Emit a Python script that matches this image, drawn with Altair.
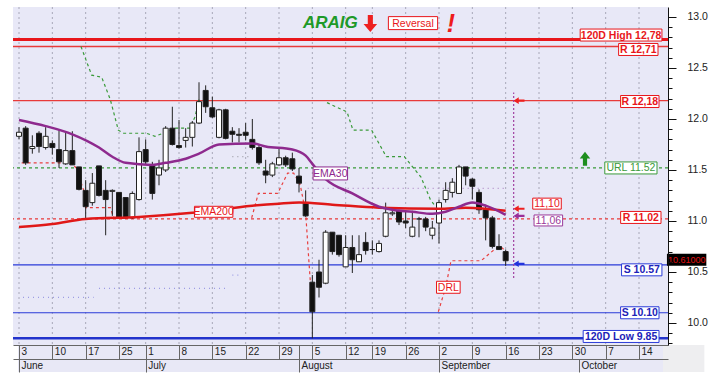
import altair as alt
import pandas as pd

# ---------------- data (trading-day index 0 = 3 June) ----------------
opens = [11.83, 11.91, 11.71, 11.86, 11.72, 11.76, 11.70, 11.56, 11.69, 11.53,
         11.30, 11.18, 11.54, 11.30, 11.29, 11.28, 11.23, 11.03, 11.21, 11.70,
         11.55, 11.45, 11.50, 11.91, 11.74, 11.79, 11.82, 11.96, 12.28, 12.11,
         11.82, 12.09, 11.88, 11.85, 11.87, 11.80, 11.72, 11.49, 11.45, 11.55,
         11.62, 11.61, 11.44, 11.18, 10.40, 10.50, 10.39, 10.89, 10.86, 10.55,
         10.74, 10.60, 10.79, 10.72, 10.70, 10.85, 11.07, 11.10, 11.00, 10.85,
         11.02, 11.02, 10.86, 10.98, 11.21, 11.28, 11.27, 11.53, 11.41, 11.28,
         11.11, 11.03, 10.75, 10.70]
highs = [11.92, 11.93, 11.84, 11.88, 11.92, 11.79, 11.89, 11.88, 11.88, 11.53,
         11.40, 11.47, 11.54, 11.40, 11.31, 11.28, 11.23, 11.29, 11.82, 11.80,
         11.58, 11.60, 11.93, 12.12, 11.99, 11.91, 11.98, 12.36, 12.33, 12.22,
         12.10, 12.10, 11.92, 11.91, 11.96, 12.00, 11.75, 11.60, 11.58, 11.72,
         11.64, 11.67, 11.52, 11.30, 10.47, 10.62, 10.91, 10.89, 10.86, 10.86,
         10.86, 10.86, 10.89, 10.81, 10.81, 11.18, 11.12, 11.11, 11.10, 11.10,
         11.04, 11.04, 11.00, 11.21, 11.38, 11.42, 11.55, 11.53, 11.42, 11.31,
         11.16, 11.05, 10.87, 10.72]
lows = [11.80, 11.55, 11.66, 11.67, 11.70, 11.65, 11.52, 11.55, 11.55, 11.30,
        11.03, 11.15, 11.24, 10.86, 11.05, 11.03, 11.02, 11.02, 11.20, 11.55,
        11.21, 11.35, 11.48, 11.74, 11.71, 11.72, 11.73, 11.95, 12.06, 12.01,
        11.81, 11.80, 11.77, 11.77, 11.79, 11.70, 11.55, 11.37, 11.43, 11.54,
        11.53, 11.49, 11.28, 11.04, 9.85, 10.25, 10.38, 10.67, 10.65, 10.55,
        10.49, 10.60, 10.67, 10.67, 10.69, 10.84, 11.05, 10.96, 10.93, 10.84,
        10.84, 10.90, 10.82, 10.78, 11.18, 11.23, 11.27, 11.35, 11.21, 11.07,
        10.81, 10.73, 10.72, 10.56]
closes = [11.87, 11.57, 11.73, 11.73, 11.83, 11.72, 11.58, 11.69, 11.55, 11.31,
          11.14, 11.37, 11.25, 11.21, 11.30, 11.03, 11.03, 11.27, 11.68, 11.58,
          11.27, 11.52, 11.91, 11.75, 11.72, 11.82, 11.96, 12.17, 12.12, 12.02,
          12.09, 11.81, 11.85, 11.84, 11.84, 11.72, 11.57, 11.45, 11.56, 11.62,
          11.55, 11.51, 11.37, 11.05, 10.11, 10.35, 10.89, 10.70, 10.67, 10.74,
          10.62, 10.67, 10.71, 10.72, 10.78, 11.08, 11.08, 10.99, 10.98, 10.94,
          11.02, 10.94, 10.93, 11.18, 11.30, 11.38, 11.53, 11.44, 11.34, 11.11,
          11.03, 10.75, 10.72, 10.61]

week_tick_idx = [0, 5, 10, 15, 19, 24, 29, 34, 39, 44, 49, 53, 58, 63, 68, 73, 78, 83, 88, 93]
week_tick_lab = ['3', '10', '17', '25', '1', '8', '15', '22', '29', '5', '12', '19', '26',
                 '2', '9', '16', '23', '30', '7', '14']
month_idx = [0, 19, 42, 63, 84]
month_lab = ['June', 'July', 'August', 'September', 'October']

ema30_idx = [0, 4, 8, 12, 14, 16, 20, 22, 25, 27, 30, 35, 37, 41, 43, 44, 46, 50, 54, 56, 59, 62, 64, 66, 68, 70, 73]
ema30_val = [11.99, 11.93, 11.85, 11.72, 11.63, 11.57, 11.55, 11.57, 11.61, 11.66, 11.75, 11.76, 11.73,
             11.70, 11.64, 11.56, 11.41, 11.27, 11.14, 11.11, 11.09, 11.07, 11.09, 11.14, 11.18, 11.15, 11.06]
ema200_idx = [0, 5, 10, 18, 26, 35, 39, 42, 47, 54, 63, 67, 73]
ema200_val = [10.94, 10.97, 11.02, 11.04, 11.08, 11.15, 11.17, 11.18, 11.16, 11.13, 11.12, 11.13, 11.10]

url_a_idx = [9.3, 10.9, 12.4, 13.7, 14.9, 15.7, 19.1, 20.4, 21.6, 23.5, 25.6, 26.4, 27.0]
url_a_val = [12.71, 12.43, 12.41, 12.19, 11.89, 11.86, 11.86, 11.83, 11.86, 11.91, 11.91, 12.02, 12.19]
url_b_idx = [46.2, 49.2, 50.1, 52.9, 55.1, 57.8, 60.3, 61.7, 62.5]
url_b_val = [12.16, 12.07, 11.89, 11.89, 11.63, 11.63, 11.43, 11.21, 11.14]

drl_a_idx = [0.4, 7.8, 8.6, 9.7, 10.0, 13.7, 14.2]
drl_a_val = [11.57, 11.57, 11.52, 11.30, 11.13, 11.13, 11.03]
drl_b_idx = [34.9, 35.9, 38.8, 40.3, 41.2, 42.2, 43.0, 43.5, 44.0]
drl_b_val = [11.03, 11.27, 11.27, 11.47, 11.47, 11.35, 11.08, 10.59, 10.13]
drl_c_idx = [62.9, 64.0, 64.8, 69.3, 71.3, 72.2, 73.3]
drl_c_val = [10.11, 10.35, 10.61, 10.61, 10.72, 10.75, 10.69]

faint_val = [11.32, 11.63, 10.25, 10.34, 10.47]
faint_from = [43.3, 32.0, 0.6, 12.0, 32.0]
faint_to = [73.3, 35.0, 11.2, 31.0, 33.4]
faint_kind = ['purple', 'gray', 'blue', 'blue', 'blue']

levels = [12.78, 12.71, 12.18, 11.52, 11.02, 10.57, 10.10, 9.85]
level_labels = ['120D High 12,78', 'R 12,71', 'R 12,18', 'URL 11.52', 'R 11.02',
                'S 10.57', 'S 10.10', '120D Low 9.85']
last_price = 10.61
ema30_last, ema200_last = 11.06, 11.10

# ---------------- geometry ----------------
XMIN, XMAX = -0.15, 96.6
YMIN, YMAX = 9.784, 13.098
W, H = 655, 338
PXX = W / (XMAX - XMIN)
PXY = H / (YMAX - YMIN)

xs = alt.Scale(domain=[XMIN, XMAX], nice=False, zero=False)
ys = alt.Scale(domain=[YMIN, YMAX], nice=False, zero=False)


def X(f):
    return alt.X(f, type='quantitative', scale=xs, axis=None)


def Y(f):
    return alt.Y(f, type='quantitative', scale=ys, axis=None)


FONT = 'Liberation Sans'
RED = '#E8161B'
BLUE = '#2A3BD8'
NAVY = '#1C22B8'
GREEN = '#3A9A3A'
PURPLE = '#8E2A8E'

layers = []

# axis-row backgrounds (below the plot)
bg = pd.DataFrame({'x1': [XMIN, XMAX], 'x2': [XMAX, XMAX + 42 / PXX],
                   'y1': [YMIN - 27 / PXY] * 2, 'y2': [YMIN, YMIN + 0.0],
                   'c': ['#E8E8F6', '#EEEEF0']})
layers.append(alt.Chart(bg).mark_rect().encode(
    x=X('x1'), x2='x2', y=Y('y1'), y2='y2', fill=alt.Fill('c:N', scale=None)))

# vertical dotted grid
layers.append(alt.Chart(pd.DataFrame({'i': week_tick_idx})).mark_rule(
    color='#A8A8B8', strokeDash=[2, 3], strokeWidth=1).encode(x=X('i')))

# faint dotted bands
fcol = {'purple': '#B28CC8', 'gray': '#A0A0A8', 'blue': '#9C9CE4'}
fdf = pd.DataFrame({'v': faint_val, 'a': faint_from, 'b': faint_to,
                    'c': [fcol[k] for k in faint_kind]})
layers.append(alt.Chart(fdf).mark_rule(strokeDash=[1, 4], strokeWidth=1.2).encode(
    x=X('a'), x2='b', y=Y('v'), color=alt.Color('c:N', scale=None)))

# horizontal levels
lvl_style = [(RED, 3, None), ('#E83A3A', 1.6, None), ('#E83A3A', 1.2, None), (GREEN, 1.2, [3, 3]),
             ('#E83A3A', 1.2, [3, 3]), (BLUE, 1.2, None), (BLUE, 1.2, None), ('#2233CC', 2.5, None)]
for v, (c, w, d) in zip(levels, lvl_style):
    kw = dict(color=c, strokeWidth=w)
    if d:
        kw['strokeDash'] = d
    layers.append(alt.Chart(pd.DataFrame({'v': [v]})).mark_rule(**kw).encode(y=Y('v')))


# trailing lines (URL green, DRL red)
def seg_df(idx, val, s):
    return pd.DataFrame({'i': idx, 'v': val, 's': s})


url_df = pd.concat([seg_df(url_a_idx, url_a_val, 'a'), seg_df(url_b_idx, url_b_val, 'b')])
layers.append(alt.Chart(url_df).mark_line(color=GREEN, strokeDash=[3, 3], strokeWidth=1.2).encode(
    x=X('i'), y=Y('v'), detail='s:N'))
drl_df = pd.concat([seg_df(drl_a_idx, drl_a_val, 'a'), seg_df(drl_b_idx, drl_b_val, 'b'),
                    seg_df(drl_c_idx, drl_c_val, 'c')])
layers.append(alt.Chart(drl_df).mark_line(color='#E84040', strokeDash=[3, 3], strokeWidth=1.2).encode(
    x=X('i'), y=Y('v'), detail='s:N'))

# candles
cdf = pd.DataFrame({'i': list(range(len(opens))), 'o': opens, 'h': highs, 'l': lows, 'c': closes})
cdf['f'] = ['white' if c >= o else '#111111' for o, c in zip(opens, closes)]
layers.append(alt.Chart(cdf).mark_rule(color='#222', strokeWidth=1).encode(
    x=X('i'), y=Y('l'), y2='h'))
layers.append(alt.Chart(cdf).mark_bar(width=5, stroke='#222', strokeWidth=1).encode(
    x=X('i'), y=Y('o'), y2='c', fill=alt.Fill('f:N', scale=None)))

# EMAs
layers.append(alt.Chart(pd.DataFrame({'i': ema200_idx, 'v': ema200_val})).mark_line(
    color='#E01818', strokeWidth=2.5, interpolate='monotone').encode(x=X('i'), y=Y('v')))
layers.append(alt.Chart(pd.DataFrame({'i': ema30_idx, 'v': ema30_val})).mark_line(
    color=PURPLE, strokeWidth=2.5, interpolate='monotone').encode(x=X('i'), y=Y('v')))

# vertical purple dotted marker
layers.append(alt.Chart(pd.DataFrame({'i': [74.2], 'a': [10.44], 'b': [12.26]})).mark_rule(
    color='#A040A0', strokeDash=[2, 2], strokeWidth=1.2).encode(x=X('i'), y=Y('a'), y2='b'))

# arrows
ARROW_DOWN = "M-0.3,-1L0.3,-1L0.3,0.05L0.8,0.05L0,1L-0.8,0.05L-0.3,0.05Z"
ARROW_UP = "M-0.3,1L0.3,1L0.3,-0.05L0.75,-0.05L0,-1L-0.75,-0.05L-0.3,-0.05Z"
ARROW_LEFT = "M1,-0.2L-0.05,-0.2L-0.05,-0.6L-1,0L-0.05,0.6L-0.05,0.2L1,0.2Z"
arrows = [(52.7, 12.935, ARROW_DOWN, 289, '#EE2020'),
          (84.9, 11.61, ARROW_UP, 196, '#1E8E1E'),
          (75.0, levels[2], ARROW_LEFT, 121, '#EE2020'),
          (75.0, ema200_last + 0.02, ARROW_LEFT, 121, '#EE2020'),
          (75.0, ema30_last - 0.01, ARROW_LEFT, 121, '#9A2F9A'),
          (75.0, levels[5] + 0.01, ARROW_LEFT, 121, '#2233DD')]
for (ai, av, shp, sz, col) in arrows:
    layers.append(alt.Chart(pd.DataFrame({'i': [ai], 'v': [av]})).mark_point(
        shape=shp, size=sz, filled=True, color=col, opacity=1, strokeWidth=0).encode(x=X('i'), y=Y('v')))

# label boxes
lab_right = [96.44, 95.85, 96.0, 95.7, 96.3, 96.44, 96.0, 96.0]
lab_w = [83, 40, 39, 53, 41, 41, 39, 77]
lab_off = [-4.4, 2.9, 0.9, 0, -1.5, 5.0, 0, -1.8]
lab_tc = [RED, RED, RED, GREEN, RED, NAVY, NAVY, NAVY]
lab_bc = [RED, RED, RED, GREEN, RED, BLUE, BLUE, BLUE]
lab_bold = [True, True, True, False, True, True, True, True]
rows = []
for v, t, r, w, o, tc, bc, b in zip(levels, level_labels, lab_right, lab_w, lab_off, lab_tc, lab_bc, lab_bold):
    rows.append(dict(cx=r - w / 2 / PXX, cy=v - o / PXY, w=w, h=12, t=t, tc=tc, bc=bc, b=b, fill='white'))
rows += [
    dict(cx=79.2, cy=11.17, w=29, h=11, t='11,10', tc=RED, bc=RED, b=False, fill='white'),
    dict(cx=79.4, cy=11.005, w=29, h=11, t='11,06', tc='#9A3A9A', bc='#9A3A9A', b=False, fill='white'),
    dict(cx=46.7, cy=11.466, w=35, h=13, t='EMA30', tc='#8E2A8E', bc='#8E2A8E', b=False, fill='white'),
    dict(cx=29.2, cy=11.09, w=39, h=11, t='EMA200', tc=RED, bc=RED, b=False, fill='white'),
    dict(cx=64.4, cy=10.35, w=24, h=12, t='DRL', tc=RED, bc=RED, b=False, fill='white'),
    dict(cx=59.1, cy=12.94, w=50, h=13, t='Reversal', tc=RED, bc=RED, b=False, fill='white'),
]
adf = pd.DataFrame(rows)
adf['x1'] = adf['cx'] - adf['w'] / 2 / PXX
adf['x2'] = adf['cx'] + adf['w'] / 2 / PXX
adf['y1'] = adf['cy'] - adf['h'] / 2 / PXY
adf['y2'] = adf['cy'] + adf['h'] / 2 / PXY
layers.append(alt.Chart(adf).mark_rect(strokeWidth=1).encode(
    x=X('x1'), x2='x2', y=Y('y1'), y2='y2',
    fill=alt.Fill('fill:N', scale=None), stroke=alt.Stroke('bc:N', scale=None)))
for bold in (True, False):
    sub = adf[adf['b'] == bold]
    layers.append(alt.Chart(sub).mark_text(
        font=FONT, fontSize=10.5, fontWeight='bold' if bold else 'normal',
        align='center', baseline='middle', dy=0.5).encode(
        x=X('cx'), y=Y('cy'), text='t:N', color=alt.Color('tc:N', scale=None)))

# title annotations
layers.append(alt.Chart(pd.DataFrame({'i': [46.7], 'v': [12.945], 't': ['ARAIG']})).mark_text(
    font=FONT, fontSize=17, fontWeight='bold', fontStyle='italic', color='#1E9A28',
    align='center', baseline='middle').encode(x=X('i'), y=Y('v'), text='t:N'))
layers.append(alt.Chart(pd.DataFrame({'i': [64.8], 'v': [12.935], 't': ['!']})).mark_text(
    font=FONT, fontSize=25, fontWeight='bold', fontStyle='italic', color='#EE1C1C',
    align='center', baseline='middle').encode(x=X('i'), y=Y('v'), text='t:N'))

# last price tag on the axis
tag = pd.DataFrame({'x1': [XMAX + 4 / PXX], 'x2': [XMAX + 44 / PXX],
                    'y1': [last_price + 0.01 - 6 / PXY], 'y2': [last_price + 0.01 + 6 / PXY],
                    'tx': [XMAX + 5 / PXX], 'ty': [last_price + 0.01], 't': [f'{last_price:.5f}']})
layers.append(alt.Chart(tag).mark_rect(color='black').encode(x=X('x1'), x2='x2', y=Y('y1'), y2='y2'))
layers.append(alt.Chart(tag).mark_text(font=FONT, fontSize=9, color='#E01010', align='left',
                                       baseline='middle', dy=0.5).encode(x=X('tx'), y=Y('ty'), text='t:N'))

# ---------------- axes ----------------
day_vals = week_tick_idx + [42]
day_labs = week_tick_lab + ['']
day_expr = ("[" + ",".join(f"'{l}'" for l in day_labs) + "][indexof([" +
            ",".join(str(v) for v in day_vals) + "], datum.value)]")
mon_expr = ("[" + ",".join(f"'{l}'" for l in month_lab) + "][indexof([" +
            ",".join(str(v) for v in month_idx) + "], datum.value)]")

common_x = dict(title=None, grid=False, labelFont=FONT, labelFontSize=10, labelColor='#222',
                labelAlign='left', labelBaseline='top', labelOffset=2, labelOverlap=False,
                labelBound=False, labelFlush=False, domainColor='#666', tickColor='#666',
                zindex=1)
layers.append(alt.Chart(pd.DataFrame({'i': day_vals})).mark_rule(opacity=0).encode(
    x=alt.X('i:Q', scale=xs, axis=alt.Axis(orient='bottom', values=day_vals, labelExpr=day_expr,
                                           tickSize=14, labelPadding=-13, **common_x))))
layers.append(alt.Chart(pd.DataFrame({'i': month_idx})).mark_rule(opacity=0).encode(
    x=alt.X('i:Q', scale=xs, axis=alt.Axis(orient='bottom', offset=14, values=month_idx,
                                           labelExpr=mon_expr, tickSize=13, labelPadding=-12,
                                           **common_x))))

major = [10.0, 10.5, 11.0, 11.5, 12.0, 12.5, 13.0]
minor = [round(9.8 + 0.1 * k, 1) for k in range(33)]
layers.append(alt.Chart(pd.DataFrame({'v': major})).mark_rule(opacity=0).encode(
    y=alt.Y('v:Q', scale=ys, axis=alt.Axis(orient='right', values=major, format='.1f', title=None,
                                           grid=False, tickSize=8, tickColor='#111', domainColor='#111',
                                           labelPadding=11, labelFont=FONT, labelFontSize=10.5,
                                           labelColor='#222', zindex=1))))
layers.append(alt.Chart(pd.DataFrame({'v': minor})).mark_rule(opacity=0).encode(
    y=alt.Y('v:Q', scale=ys, axis=alt.Axis(orient='right', values=minor, labels=False, title=None,
                                           grid=False, tickSize=4, tickColor='#111', domain=False,
                                           zindex=1))))

chart = alt.layer(*layers).resolve_axis(x='independent', y='independent').properties(
    width=W, height=H, autosize='none', background='white',
    padding={'left': 13, 'top': 7, 'right': 58, 'bottom': 44}
).configure_view(fill='#E8E8F7', stroke=None)

chart.save("out.html", embed_options={"renderer": "svg", "actions": False})
